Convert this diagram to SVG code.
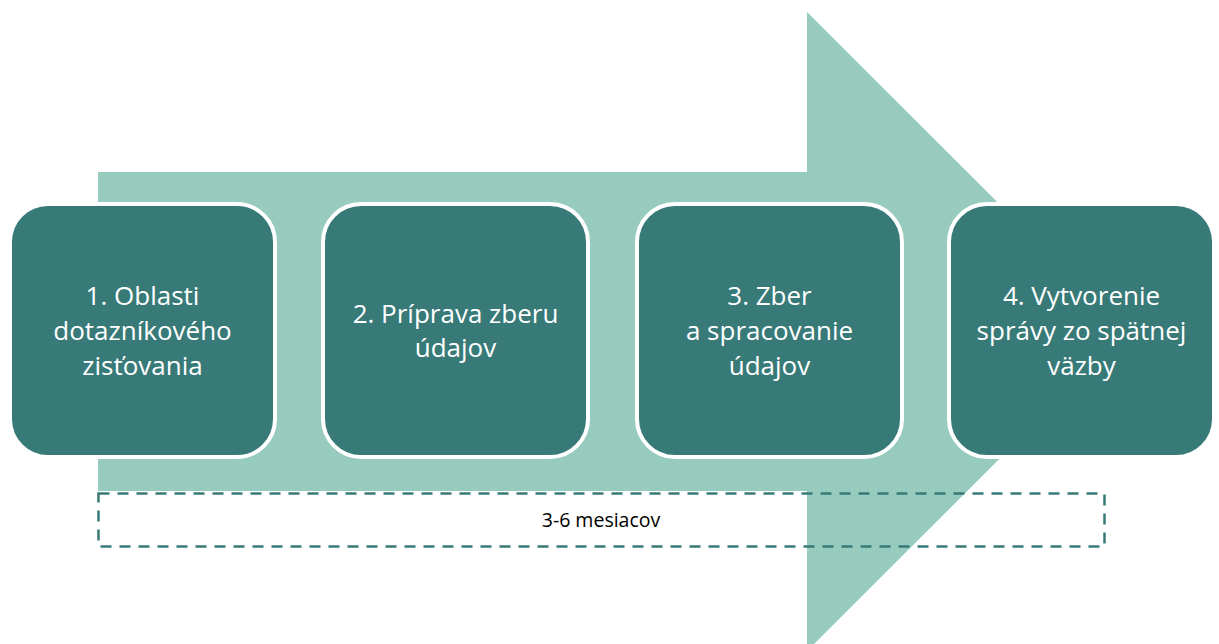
<svg xmlns="http://www.w3.org/2000/svg" width="1219" height="644" viewBox="0 0 1219 644">
<style>
.box{fill:#377a78;stroke:#ffffff;stroke-width:4}
.lbl{font-family:"Open Sans","Noto Sans",sans-serif;font-size:26px;fill:#ffffff;text-anchor:middle}
.dur{font-family:"Open Sans","Noto Sans",sans-serif;font-size:19.5px;fill:#000000;text-anchor:middle}
</style>
<rect width="1219" height="644" fill="#ffffff"/>
<g id="arrow">
<polygon points="98,172 807,172 807,12 1127,331.5 807,651 807,491 98,491" fill="#96cbbd"/>
</g>
<g id="connectors"></g>
<g id="node1">
<rect class="box" x="10" y="204" width="265" height="253" rx="38"/>
<text class="lbl"><tspan x="142.5" y="305">1. Oblasti</tspan><tspan x="142.5" y="340">dotazníkového</tspan><tspan x="142.5" y="375">zisťovania</tspan></text>
</g>
<g id="node2">
<rect class="box" x="323" y="204" width="265" height="253" rx="38"/>
<text class="lbl"><tspan x="455.5" y="323">2. Príprava zberu</tspan><tspan x="455.5" y="357">údajov</tspan></text>
</g>
<g id="node3">
<rect class="box" x="637" y="204" width="265" height="253" rx="38"/>
<text class="lbl"><tspan x="769.5" y="305">3. Zber</tspan><tspan x="769.5" y="340">a spracovanie</tspan><tspan x="769.5" y="375">údajov</tspan></text>
</g>
<g id="node4">
<rect class="box" x="949" y="204" width="265" height="253" rx="38"/>
<text class="lbl"><tspan x="1081.5" y="305">4. Vytvorenie</tspan><tspan x="1081.5" y="340">správy zo spätnej</tspan><tspan x="1081.5" y="375">väzby</tspan></text>
</g>
<g id="duration">
<rect x="98.5" y="493.5" width="1006" height="53" fill="none" stroke="#377a78" stroke-width="2.5" stroke-dasharray="11 8"/>
<text class="dur" x="601" y="527">3-6 mesiacov</text>
</g>
</svg>
